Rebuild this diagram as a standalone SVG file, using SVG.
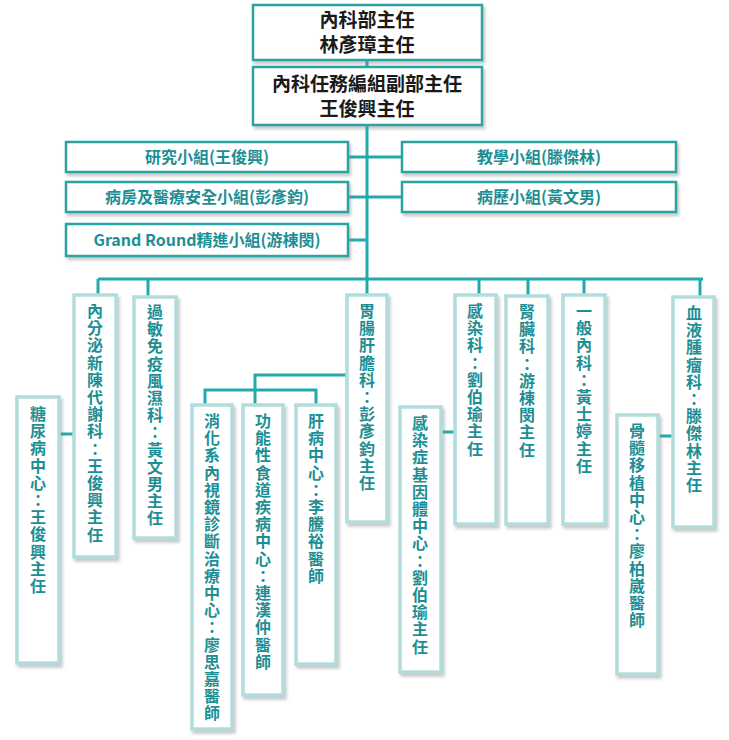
<svg xmlns="http://www.w3.org/2000/svg" width="729" height="740" viewBox="0 0 729 740">
<defs>
<filter id="sh" x="-20%" y="-20%" width="140%" height="140%"><feDropShadow dx="2" dy="3" stdDeviation="1.5" flood-color="#888" flood-opacity="0.45"/></filter>
<style>
.top{fill:#fff;stroke:#2aa3a3;stroke-width:2.5;filter:url(#sh)}
.grp{fill:#fff;stroke:#2aa3a3;stroke-width:2.5;filter:url(#sh)}
.v{fill:#fff;stroke:#b3dcdc;stroke-width:3.5;filter:url(#sh)}
.t{font-family:"Noto Sans CJK TC","Noto Sans",sans-serif;font-weight:bold;fill:#1a1a1a;font-size:19px;text-anchor:middle}
.g{font-family:"Noto Sans CJK TC","Noto Sans",sans-serif;font-weight:bold;fill:#1d8f94;font-size:16px;text-anchor:middle}
.vt{font-family:"Noto Sans CJK TC",sans-serif;font-weight:bold;fill:#1d8f94;font-size:16px;writing-mode:vertical-rl;letter-spacing:1.2px}
.c{fill:none;stroke:#22aaaa;stroke-width:3}
</style>
</defs>
<g id="connectors" class="c">
<path d="M367 60V67M367 125V279M98 279H703M98 279V295M148 279V297M367 279V295M479 279V295M528 279V296M584 279V295M700 279V297"/>
<path d="M348 157H402M348 197H402M348 240H367"/>
<path d="M59 434H74M441 432H455M658 436H673"/>
<path d="M347 375H255V390M205 405V390H316V405M255 390V405"/>
</g>
<g id="n1"><rect class="top" x="253" y="5" width="229" height="55"/><text class="t" x="367" y="27">內科部主任</text><text class="t" x="367" y="52">林彥璋主任</text></g>
<g id="n2"><rect class="top" x="253" y="67" width="229" height="58"/><text class="t" x="367" y="91">內科任務編組副部主任</text><text class="t" x="367" y="116">王俊興主任</text></g>
<g id="g1"><rect class="grp" x="66" y="142" width="282" height="30"/><text class="g" x="207" y="163">研究小組(王俊興)</text></g>
<g id="g2"><rect class="grp" x="402" y="142" width="274" height="30"/><text class="g" x="539" y="163">教學小組(滕傑林)</text></g>
<g id="g3"><rect class="grp" x="66" y="182" width="282" height="30"/><text class="g" x="207" y="203">病房及醫療安全小組(彭彥鈞)</text></g>
<g id="g4"><rect class="grp" x="402" y="182" width="274" height="30"/><text class="g" x="539" y="203">病歷小組(黃文男)</text></g>
<g id="g5"><rect class="grp" x="66" y="224" width="282" height="32"/><text class="g" x="207" y="246">Grand Round精進小組(游棟閔)</text></g>
<g id="v1"><rect class="v" x="74" y="295" width="42" height="262"/><text class="vt" x="95" y="303">內分泌新陳代謝科：王俊興主任</text></g>
<g id="v2"><rect class="v" x="134" y="297" width="42" height="241"/><text class="vt" x="155" y="304">過敏免疫風濕科：黃文男主任</text></g>
<g id="v3"><rect class="v" x="17" y="397" width="42" height="266"/><text class="vt" x="38" y="406">糖尿病中心：王俊興主任</text></g>
<g id="v4"><rect class="v" x="347" y="295" width="40" height="227"/><text class="vt" x="367" y="303">胃腸肝膽科：彭彥鈞主任</text></g>
<g id="v5"><rect class="v" x="192" y="405" width="40" height="324"/><text class="vt" x="212" y="413">消化系內視鏡診斷治療中心：廖思嘉醫師</text></g>
<g id="v6"><rect class="v" x="243" y="405" width="40" height="290"/><text class="vt" x="263" y="413">功能性食道疾病中心：連漢仲醫師</text></g>
<g id="v7"><rect class="v" x="296" y="405" width="40" height="259"/><text class="vt" x="316" y="413">肝病中心：李騰裕醫師</text></g>
<g id="v8"><rect class="v" x="455" y="295" width="41" height="229"/><text class="vt" x="475" y="303">感染科：劉伯瑜主任</text></g>
<g id="v9"><rect class="v" x="506" y="296" width="42" height="228"/><text class="vt" x="527" y="304">腎臟科：游棟閔主任</text></g>
<g id="v10"><rect class="v" x="563" y="295" width="42" height="229"/><text class="vt" x="584" y="303">一般內科：黃士婷主任</text></g>
<g id="v11"><rect class="v" x="673" y="297" width="41" height="230"/><text class="vt" x="694" y="305">血液腫瘤科：滕傑林主任</text></g>
<g id="v12"><rect class="v" x="400" y="407" width="41" height="265"/><text class="vt" x="420" y="415">感染症基因體中心：劉伯瑜主任</text></g>
<g id="v13"><rect class="v" x="617" y="415" width="41" height="259"/><text class="vt" x="637" y="423">骨髓移植中心：廖柏崴醫師</text></g>
</svg>
